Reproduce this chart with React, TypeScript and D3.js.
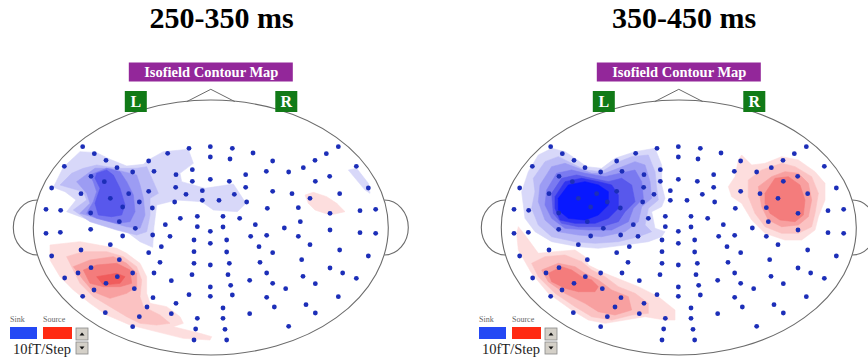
import * as d3 from 'd3'

type Pt = [number, number]

// sensor layout, in helmet grid units (0..1302 across, 0..750 down)
const SENSORS: Pt[] = [
  [248, 110], [283, 131], [318, 151], [193, 169], [351, 173], [398, 186], [273, 199], [313, 215],
  [155, 234], [243, 251], [331, 265], [386, 251], [446, 244], [418, 276], [368, 291], [457, 294],
  [138, 298], [182, 301], [272, 309], [358, 335], [406, 355], [272, 358], [138, 370], [181, 367],
  [368, 378], [458, 375], [331, 404], [243, 420], [155, 438], [446, 428], [484, 410], [510, 379],
  [496, 344], [541, 325], [592, 319], [592, 350], [582, 390], [631, 364], [669, 319], [669, 351],
  [680, 390], [631, 400], [582, 425], [680, 426], [719, 325], [766, 344], [752, 379], [800, 376],
  [777, 410], [818, 428], [853, 354], [895, 379], [901, 335], [930, 404], [895, 293], [930, 265],
  [802, 295], [740, 276], [703, 253], [657, 271], [607, 271], [607, 242], [558, 253], [524, 276],
  [527, 232], [577, 214], [631, 208], [688, 214], [737, 232], [818, 244], [876, 251], [946, 214],
  [1019, 251], [1105, 234], [1080, 302], [1127, 298], [990, 310], [990, 360], [1080, 368], [1127, 370],
  [1019, 420], [1105, 438], [905, 449], [990, 474], [1028, 489], [1069, 505], [909, 499], [946, 521],
  [780, 457], [800, 489], [818, 520], [857, 536], [749, 511], [688, 460], [631, 465], [582, 460],
  [576, 494], [684, 494], [631, 531], [692, 526], [697, 555], [631, 559], [567, 554], [514, 512],
  [462, 489], [480, 457], [459, 563], [528, 580], [514, 611], [441, 591], [418, 620], [398, 650],
  [316, 608], [248, 559], [194, 504], [234, 489], [273, 473], [358, 449], [398, 489], [352, 500],
  [318, 520], [282, 540], [403, 536], [592, 625], [669, 625], [669, 594], [587, 657], [675, 658],
  [582, 690], [680, 690], [749, 611], [800, 562], [823, 591], [866, 649], [918, 584], [946, 609],
  [1015, 560], [446, 153], [462, 184], [503, 130], [528, 194], [567, 115], [577, 179], [631, 110],
  [631, 141], [697, 115], [690, 147], [759, 129], [737, 194], [799, 184], [818, 153], [866, 186],
  [910, 173], [945, 151], [979, 131], [1015, 110], [989, 199], [1069, 169],
]

const TITLES = ['250-350 ms', '350-450 ms']

const SINK_SHADES = ['#d8d8f9', '#bcbcf6', '#9c9cf3', '#7a7af0', '#5858ec', '#3034f0', '#0818ff']
const SOURCE_SHADES = ['#fddede', '#fbc2c2', '#f8a0a0', '#f47c7c', '#f05c5c']

// isofield levels, outermost first (helmet grid units)
const LEFT_SINK: Pt[][] = [
  [[160, 232], [190, 172], [240, 125], [290, 128], [330, 148], [380, 168], [430, 163], [445, 150], [490, 125], [565, 118], [580, 160], [540, 190], [545, 215], [615, 235], [700, 222], [738, 280], [712, 305], [640, 300], [605, 275], [530, 270], [470, 285], [462, 350], [458, 412], [420, 395], [360, 350], [280, 335], [200, 305], [228, 270], [195, 245]],
  [[180, 225], [215, 190], [250, 175], [290, 165], [320, 170], [360, 175], [410, 175], [440, 170], [460, 215], [475, 250], [450, 265], [450, 315], [440, 365], [410, 375], [350, 360], [270, 335], [220, 300], [260, 270], [250, 245]],
  [[230, 215], [285, 175], [330, 175], [370, 185], [410, 195], [420, 225], [430, 265], [435, 315], [420, 355], [380, 350], [310, 330], [240, 310], [270, 280], [260, 250]],
  [[270, 195], [320, 175], [360, 185], [380, 215], [400, 255], [405, 305], [390, 335], [350, 340], [290, 325], [260, 310], [280, 275], [290, 245], [280, 215]],
  [[290, 190], [320, 180], [340, 195], [360, 235], [375, 285], [365, 315], [335, 320], [295, 315], [285, 280], [300, 235], [285, 205]],
]
const LEFT_SINK_SLIVER: Pt[][] = [
  [[1045, 180], [1070, 175], [1105, 220], [1110, 250], [1095, 240], [1070, 210]],
]
const LEFT_SOURCE: Pt[][] = [
  [[150, 405], [240, 395], [295, 405], [350, 415], [380, 430], [420, 460], [440, 500], [440, 550], [450, 580], [500, 590], [540, 620], [550, 640], [520, 650], [600, 670], [635, 680], [630, 690], [550, 685], [450, 660], [390, 645], [320, 615], [270, 580], [220, 540], [180, 500], [150, 450]],
  [[200, 440], [250, 425], [320, 425], [370, 440], [410, 470], [425, 510], [420, 560], [430, 590], [480, 615], [510, 640], [470, 645], [420, 640], [380, 620], [330, 590], [280, 560], [240, 520], [220, 480]],
  [[220, 470], [270, 450], [340, 440], [380, 460], [410, 490], [410, 530], [380, 550], [330, 565], [280, 545], [250, 510]],
  [[250, 480], [290, 465], [350, 460], [390, 480], [395, 520], [360, 530], [310, 530], [270, 520]],
  [[290, 500], [350, 490], [375, 500], [360, 520], [310, 525]],
]
const LEFT_SOURCE_SMALL: Pt[][] = [
  [[915, 255], [940, 247], [980, 260], [1010, 280], [1035, 305], [990, 315], [945, 300], [925, 280]],
]

const RIGHT_SINK: Pt[][] = [
  [[181, 185], [211, 135], [251, 115], [291, 125], [321, 145], [356, 170], [401, 175], [441, 145], [501, 125], [561, 115], [581, 165], [581, 225], [591, 265], [581, 290], [551, 305], [561, 355], [591, 365], [581, 380], [541, 395], [471, 405], [391, 415], [331, 410], [251, 395], [201, 365], [171, 325], [161, 245]],
  [[196, 205], [231, 155], [271, 140], [311, 160], [351, 180], [401, 185], [441, 160], [491, 140], [541, 135], [561, 185], [566, 235], [571, 270], [541, 295], [531, 345], [551, 365], [511, 380], [451, 395], [381, 400], [321, 395], [251, 380], [211, 345], [191, 295], [201, 245]],
  [[216, 225], [251, 170], [291, 160], [331, 175], [371, 190], [411, 190], [451, 175], [501, 155], [531, 165], [546, 215], [551, 265], [521, 290], [511, 335], [471, 365], [401, 380], [331, 375], [271, 365], [231, 330], [211, 275]],
  [[236, 240], [266, 190], [311, 180], [351, 190], [411, 200], [456, 190], [501, 180], [521, 215], [526, 265], [496, 295], [481, 335], [431, 360], [361, 360], [291, 355], [251, 325], [231, 285]],
  [[251, 250], [281, 205], [326, 195], [371, 205], [421, 215], [461, 205], [491, 225], [501, 275], [471, 305], [451, 335], [401, 350], [331, 350], [281, 340], [256, 310]],
  [[261, 260], [291, 215], [341, 205], [391, 215], [431, 225], [451, 255], [451, 295], [421, 325], [381, 340], [321, 340], [276, 330], [261, 295]],
  [[271, 265], [301, 225], [351, 215], [391, 225], [421, 245], [421, 285], [391, 315], [351, 330], [301, 325], [271, 300]],
]
const RIGHT_SOURCE_UPPER: Pt[][] = [
  [[781, 230], [801, 200], [811, 150], [821, 135], [851, 165], [891, 160], [941, 140], [991, 150], [1041, 185], [1071, 220], [1071, 270], [1051, 320], [1041, 360], [1001, 390], [951, 390], [891, 370], [851, 330], [821, 280], [791, 260]],
  [[841, 210], [881, 180], [941, 160], [981, 170], [1031, 200], [1051, 250], [1041, 310], [1031, 350], [991, 370], [941, 370], [891, 350], [861, 310], [841, 260]],
  [[871, 230], [911, 200], [951, 185], [991, 190], [1021, 220], [1031, 270], [1021, 320], [991, 345], [941, 350], [901, 330], [881, 290]],
  [[891, 250], [921, 205], [961, 200], [996, 225], [1011, 270], [1006, 315], [981, 335], [936, 330], [906, 310], [891, 280]],
]
const RIGHT_SOURCE_LOWER: Pt[][] = [
  [[151, 350], [171, 375], [211, 430], [261, 425], [321, 420], [351, 440], [361, 465], [411, 490], [461, 510], [511, 530], [571, 560], [621, 600], [621, 630], [591, 630], [531, 620], [471, 630], [411, 640], [361, 630], [311, 600], [241, 550], [191, 490], [151, 420], [146, 370]],
  [[191, 460], [231, 440], [291, 435], [341, 455], [371, 480], [411, 500], [451, 530], [501, 550], [541, 580], [541, 610], [491, 615], [431, 630], [371, 620], [321, 590], [261, 550], [211, 500]],
  [[221, 480], [271, 460], [321, 470], [351, 490], [391, 510], [431, 540], [481, 560], [491, 600], [441, 615], [391, 605], [351, 580], [291, 550], [241, 515]],
  [[241, 490], [281, 470], [311, 480], [341, 500], [371, 510], [391, 530], [381, 545], [331, 545], [291, 535], [251, 515]],
]

const PANEL_BLOBS = [
  [
    { levels: LEFT_SINK, shades: SINK_SHADES },
    { levels: LEFT_SINK_SLIVER, shades: SINK_SHADES },
    { levels: LEFT_SOURCE, shades: SOURCE_SHADES },
    { levels: LEFT_SOURCE_SMALL, shades: SOURCE_SHADES },
  ],
  [
    { levels: RIGHT_SINK, shades: SINK_SHADES },
    { levels: RIGHT_SOURCE_UPPER, shades: SOURCE_SHADES },
    { levels: RIGHT_SOURCE_LOWER, shades: SOURCE_SHADES },
  ],
]

const W = 868
const H = 360
const PANEL_SHIFT = 468
const serif = '"Liberation Serif", "Times New Roman", serif'

function Panel({ index }: { index: number }) {
  const dx = index * PANEL_SHIFT
  const x = d3.scaleLinear().domain([0, 1302]).range([dx, dx + 434])
  const y = d3.scaleLinear().domain([0, 750]).range([110, 360])
  const line = d3
    .line<Pt>()
    .x(p => x(p[0]))
    .y(p => y(p[1]))
    .curve(d3.curveLinearClosed)

  const cx = 210.8 + dx
  const cy = 227.5
  const rx = 177.5
  const ry = 127.5
  const clipId = `head-clip-${index}`
  const titleX = index === 0 ? 221.5 : 684

  return (
    <g>
      <defs>
        <clipPath id={clipId}>
          <ellipse cx={cx} cy={cy} rx={rx} ry={ry} />
        </clipPath>
      </defs>

      <text
        x={titleX}
        y={28}
        textAnchor="middle"
        fontFamily={serif}
        fontWeight="bold"
        fontSize={30}
        fill="#000"
      >
        {TITLES[index]}
      </text>

      <rect x={cx - 82} y={62.5} width={164} height={19} fill="#93279a" />
      <text x={cx + 0.5} y={77} textAnchor="middle" fontFamily={serif} fontWeight="bold" fontSize={14.5} fill="#fff">
        Isofield Contour Map
      </text>

      {/* ears */}
      <path d={`M${cx - 173.5},200 A24,27.5 0 0 0 ${cx - 173.5},255`} fill="none" stroke="#6b6b6b" strokeWidth={1.1} />
      <path d={`M${cx + 173.5},200 A24,27.5 0 0 1 ${cx + 173.5},255`} fill="none" stroke="#6b6b6b" strokeWidth={1.1} />

      <g clipPath={`url(#${clipId})`}>
        {PANEL_BLOBS[index].map((blob, b) =>
          blob.levels.map((poly, l) => (
            <path key={`${b}-${l}`} d={line(poly) ?? ''} fill={blob.shades[l]} stroke={blob.shades[l]} strokeWidth={0.6} />
          )),
        )}
      </g>

      {SENSORS.map((p, i) => (
        <circle key={i} cx={x(p[0])} cy={y(p[1])} r={2.4} fill="#1c2eb8" />
      ))}

      <ellipse cx={cx} cy={cy} rx={rx} ry={ry} fill="none" stroke="#6b6b6b" strokeWidth={1.1} />
      {/* nose */}
      <path
        d={`M${cx - 24},101.6 L${cx},89.3 L${cx + 24},101.6`}
        fill="none"
        stroke="#6b6b6b"
        strokeWidth={1}
      />

      <rect x={cx - 86} y={91} width={22} height={21} fill="#117a17" />
      <text x={cx - 75} y={107} textAnchor="middle" fontFamily={serif} fontWeight="bold" fontSize={16} fill="#fff">
        L
      </text>
      <rect x={cx + 64.5} y={91} width={22} height={21} fill="#117a17" />
      <text x={cx + 75.5} y={107} textAnchor="middle" fontFamily={serif} fontWeight="bold" fontSize={16} fill="#fff">
        R
      </text>

      {/* legend */}
      <g transform={`translate(${dx + (index === 0 ? 0 : 1)},0)`}>
        <text x={10} y={322} fontFamily={serif} fontSize={8} fill="#666">
          Sink
        </text>
        <text x={43} y={322} fontFamily={serif} fontSize={8} fill="#666">
          Source
        </text>
        <rect x={10} y={327} width={27} height={12} fill="#2448f4" />
        <rect x={43} y={327} width={29} height={12} fill="#ff2a12" />
        <text x={13} y={354} fontFamily={serif} fontSize={14.5} fill="#222">
          10fT/Step
        </text>
        {[328, 342].map((by, k) => (
          <g key={by}>
            <rect x={76} y={by} width={12} height={12} fill="#d4d0c8" stroke="#888" strokeWidth={0.8} />
            <path
              d={
                k === 0
                  ? `M79.5,${by + 7.5} L82,${by + 4.5} L84.5,${by + 7.5} Z`
                  : `M79.5,${by + 4.5} L82,${by + 7.5} L84.5,${by + 4.5} Z`
              }
              fill="#111"
            />
          </g>
        ))}
      </g>
    </g>
  )
}

export default function App() {
  return (
    <svg
      width={W}
      height={H}
      viewBox={`0 0 ${W} ${H}`}
      style={{ position: 'absolute', left: 0, top: 0, background: '#fff' }}
    >
      <rect width={W} height={H} fill="#fff" />
      <Panel index={0} />
      <Panel index={1} />
    </svg>
  )
}
